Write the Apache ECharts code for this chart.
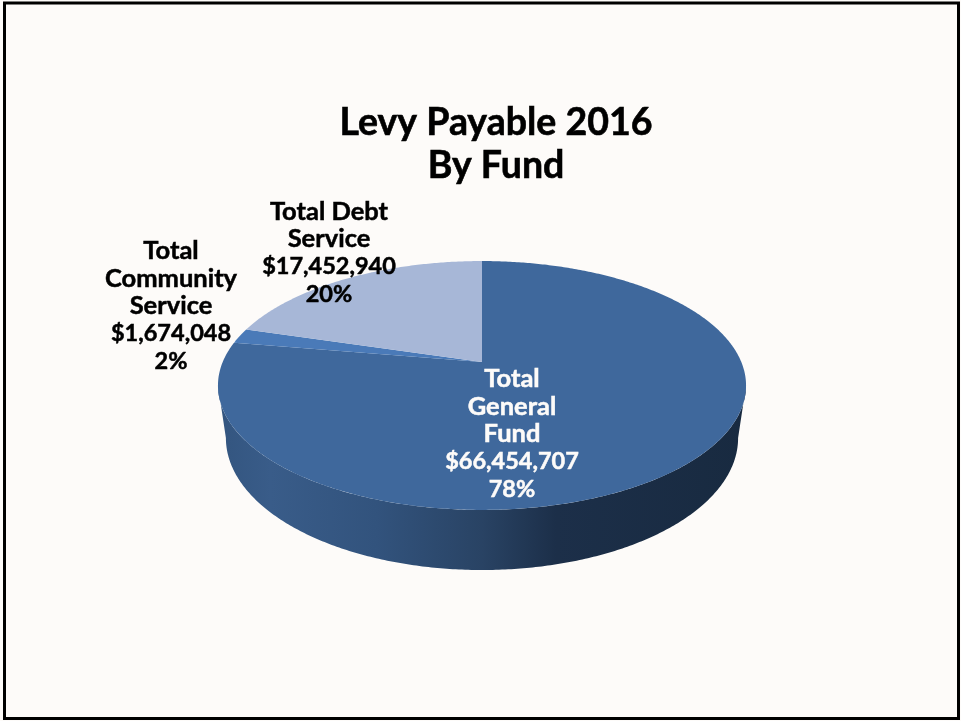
<!DOCTYPE html>
<html><head><meta charset="utf-8">
<style>html,body{margin:0;padding:0;background:#fff}#c{width:961px;height:721px}</style>
<script src="https://cdn.jsdelivr.net/npm/echarts@6/dist/echarts.min.js"></script>
</head><body><div id="c"></div>
<script>
// ---- data ----
const categories = ['Total\nGeneral\nFund', 'Total\nCommunity\nService', 'Total Debt\nService'];
const values = [66454707, 1674048, 17452940];
const titleText = 'Levy Payable 2016\nBy Fund';

// ---- look ----
const topColors = ['#3f689c', '#4a7ab8', '#a7b7d7'];
const textColors = ['#fdfbf9', '#000', '#000'];
const labelCenters = [[512, 433], [171, 305], [329, 252]];
const FONT = 'Lato, "Open Sans", sans-serif';
const disc = {cx: 482, cy: 362, a: 259.3, b: 120, k: 0.1887};
const base = {cx: 482, cy: 413.1, a: 251.5, b: 127.3, k: 0.1887};
const total = values.reduce((s, v) => s + v, 0);

// Circle -> picture plane, with perspective. t is clockwise from 12 o'clock.
function project(d, t) {
  const X = Math.sin(t), Y = -Math.cos(t), w = 1 - d.k * Y;
  return [d.cx + d.a * X / w, d.cy + d.b * Y / w];
}
function arc(d, t0, t1) {
  const pts = [], n = Math.max(2, Math.ceil(Math.abs(t1 - t0) / 0.01));
  for (let i = 0; i <= n; i++) pts.push(project(d, t0 + (t1 - t0) * i / n));
  return pts;
}
const edge = Math.acos(-disc.k);            // rim's widest point on the right
const frontFrom = edge, frontTo = 2 * Math.PI - edge;

function renderItem(params, api) {
  const i = params.dataIndex;
  const before = values.slice(0, i).reduce((s, v) => s + v, 0);
  const t0 = before / total * 2 * Math.PI;
  const t1 = (before + api.value(0)) / total * 2 * Math.PI;
  const children = [];
  const a = Math.max(t0, frontFrom), b = Math.min(t1, frontTo);
  if (b > a) {
    children.push({
      type: 'polygon', z2: 1,
      shape: {points: arc(disc, a, b).concat(arc(base, b, a))},
      style: {fill: {type: 'linear', x: 0, y: 0, x2: 1, y2: 0, colorStops: [
        {offset: 0, color: '#33557f'}, {offset: 0.1, color: '#395c89'},
        {offset: 0.3, color: '#32537d'}, {offset: 0.5, color: '#294364'},
        {offset: 0.64, color: '#1c2f49'}, {offset: 1, color: '#182a40'}]}}
    });
  }
  children.push({
    type: 'polygon', z2: 2,
    shape: {points: [[disc.cx, disc.cy]].concat(arc(disc, t0, t1))},
    style: {fill: topColors[i]}
  });
  const pct = Math.round(api.value(0) / total * 100);
  const nameLines = categories[i].split('\n').map(s => '{n|' + s + '}');
  const fill = textColors[i];
  const run = size => ({font: 'bold ' + size + 'px ' + FONT, lineHeight: 27.7, fill,
                        textStroke: fill, stroke: fill, lineWidth: 0.5});
  children.push({
    type: 'text', z2: 10,
    style: {
      x: labelCenters[i][0], y: labelCenters[i][1] + 1,
      text: nameLines.concat('{v|$' + api.value(0).toLocaleString('en-US') + '}', '{v|' + pct + '%}').join('\n'),
      align: 'center', verticalAlign: 'middle', fill, stroke: fill, lineWidth: 0.5,
      rich: {n: run(25.5), v: run(23.5)}
    }
  });
  return {type: 'group', children};
}

const chart = echarts.init(document.getElementById('c'), null, {renderer: 'canvas'});
chart.setOption({
  animation: false,
  backgroundColor: '#fdfbf9',
  title: {
    text: titleText, left: 491, top: 96, textAlign: 'center',
    textStyle: {fontFamily: FONT, fontWeight: 'bold', fontSize: 37.5, lineHeight: 43, color: '#000',
                textBorderColor: '#000', textBorderWidth: 0.6}
  },
  graphic: [{
    type: 'rect', z: -1, silent: true,
    shape: {x: 4.5, y: 3, width: 954, height: 715.5},
    style: {fill: 'none', stroke: '#000', lineWidth: 3}
  }],
  series: [{
    type: 'custom', coordinateSystem: 'none', renderItem, clip: false,
    data: values.map(v => [v])
  }]
});
</script></body></html>
